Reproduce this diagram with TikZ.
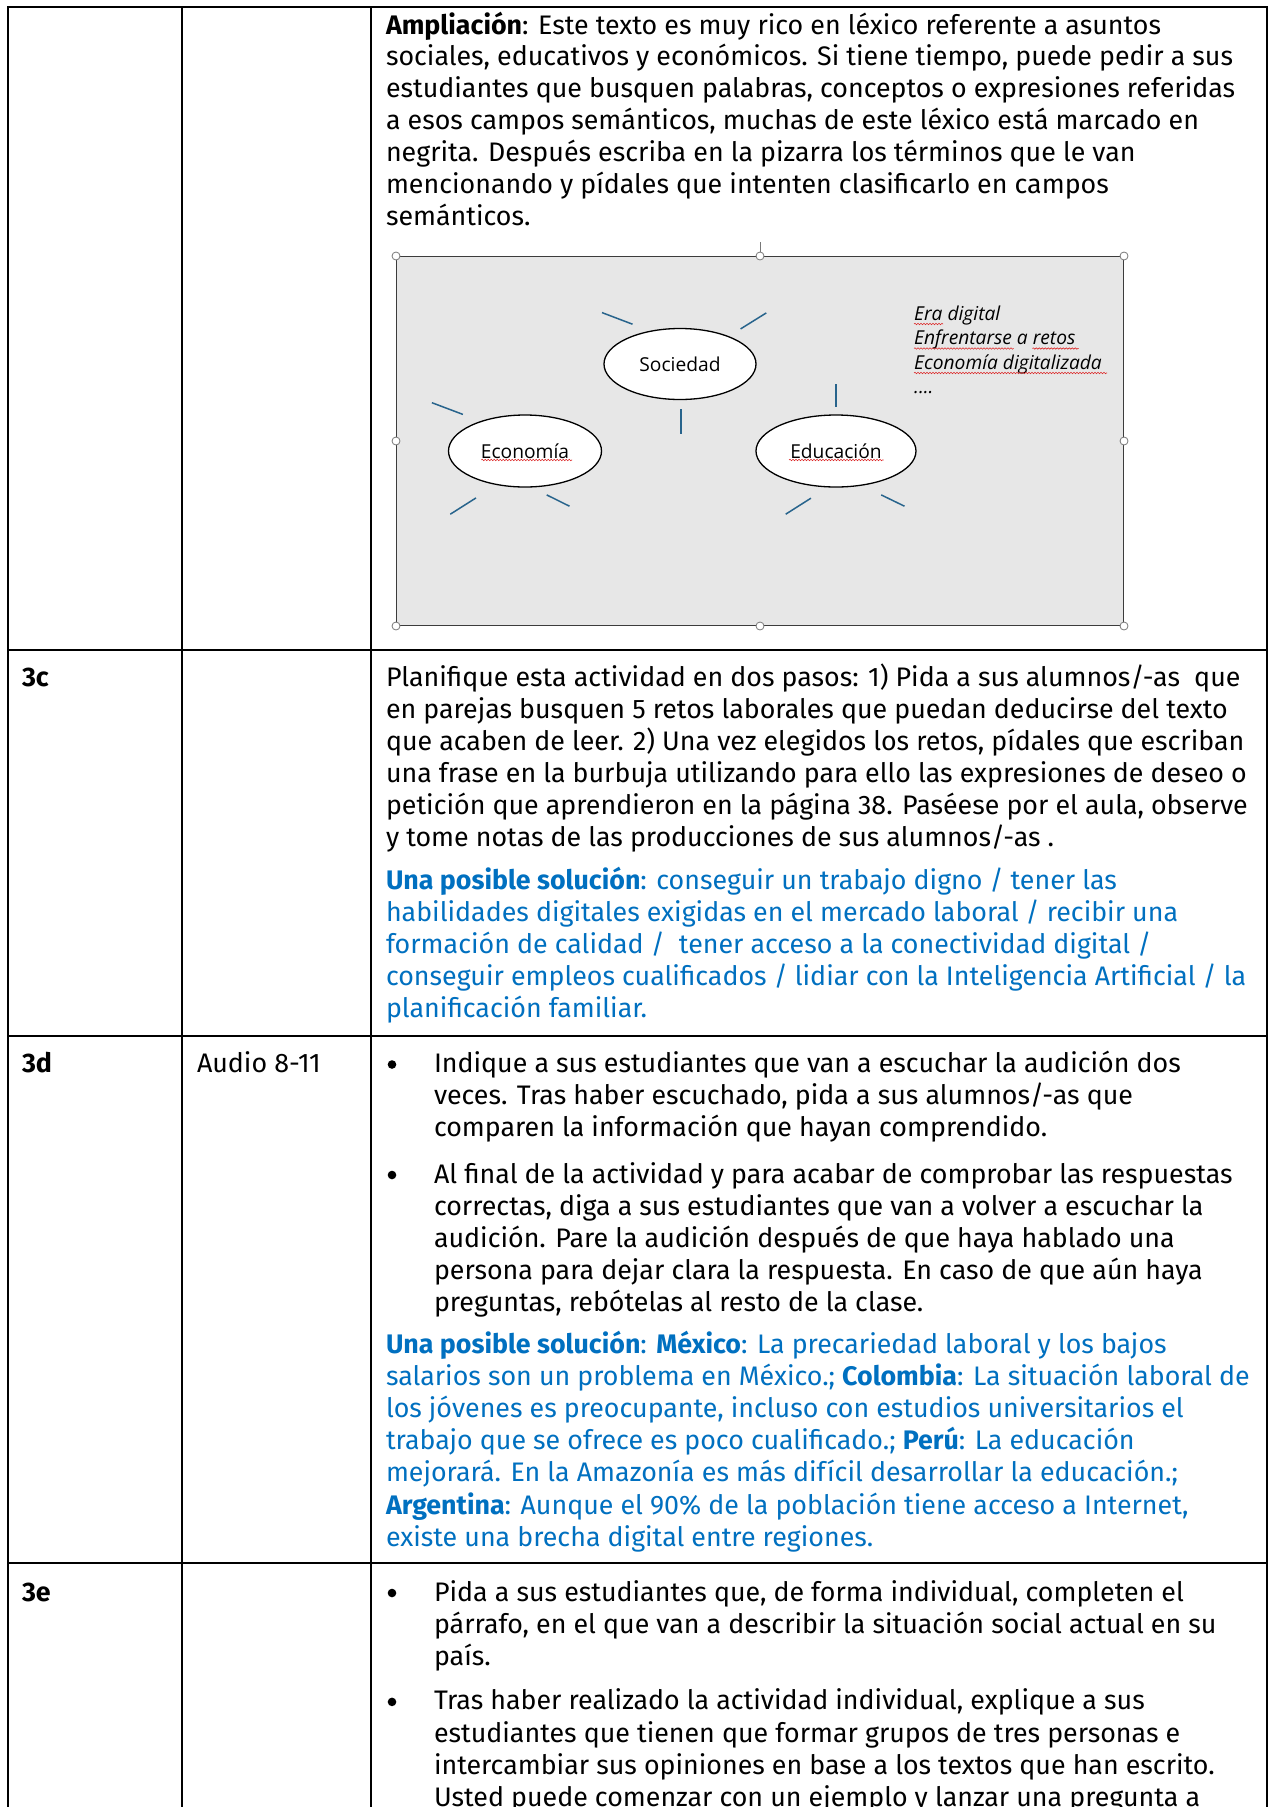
\documentclass[tikz,border=0pt]{standalone}
\usepackage{fontspec}
\setmainfont{Fira Sans}
\newfontfamily\diagfont{Open Sans}
\usetikzlibrary{shapes.geometric,decorations.pathmorphing}
\definecolor{solblue}{RGB}{0,112,192}
\definecolor{raycol}{RGB}{40,100,140}
\definecolor{imgfill}{RGB}{231,231,231}
\definecolor{handlecol}{RGB}{120,120,120}
\definecolor{squigcol}{RGB}{220,40,40}
\newcommand{\bodyfont}{\fontsize{26.8}{32.1}\selectfont}
\begin{document}
\begin{tikzpicture}[x=1pt,y=-1pt,
  grid/.style={line width=1.4pt, line cap=rect},
  ln/.style={anchor=base west, inner sep=0pt, outer sep=0pt, font=\bodyfont},
  blu/.style={ln, text=solblue},
  lab/.style={ln, font=\bodyfont\bfseries},
  bul/.style={circle, fill=black, inner sep=0pt, minimum size=8.6pt},
  oval/.style={ellipse, draw=black, line width=1.3pt, fill=white, inner sep=0pt, font=\diagfont\fontsize{19.2}{23}\selectfont},
  ray/.style={draw=raycol, line width=1.5pt},
  hdl/.style={circle, draw=handlecol, fill=white, line width=0.8pt, minimum size=8pt, inner sep=0pt},
  sq/.style={draw=squigcol, line width=0.6pt, decorate, decoration={snake, amplitude=0.7pt, segment length=3pt}},
  lst/.style={anchor=base west, inner sep=0pt, font=\diagfont\itshape\fontsize{19.2}{23}\selectfont}
]
\useasboundingbox (0,0) rectangle (1270,1807);
\clip (0,0) rectangle (1270,1807);
\fill[white] (0,0) rectangle (1270,1807);

% table grid
\draw[grid] (8,7) -- (1267,7);
\foreach \y in {650,1036,1563} \draw[grid] (8,\y) -- (1267,\y);
\foreach \x in {8,182,371,1267} \draw[grid] (\x,7) -- (\x,1815);

% row A text
\foreach \t [count=\i from 0] in {
 {\textbf{Ampliación}: Este texto es muy rico en léxico referente a asuntos},
 {sociales, educativos y económicos. Si tiene tiempo, puede pedir a sus},
 {estudiantes que busquen palabras, conceptos o expresiones referidas},
 {a esos campos semánticos, muchas de este léxico está marcado en},
 {negrita. Después escriba en la pizarra los términos que le van},
 {mencionando y pídales que intenten clasificarlo en campos},
 {semánticos.}}
 \node[ln] (a\i) at (386,34+31.9*\i) {\t};

% picture
\node[draw={rgb,255:red,60;green,60;blue,60}, line width=1pt, fill=imgfill, minimum width=727pt, minimum height=369pt, anchor=north west, inner sep=0pt] (img) at (396,256) {};
\draw[handlecol, line width=0.8pt] (760,242) -- (760,252);
\foreach \a [count=\i] in {north west,north,north east,west,east,south west,south,south east}
  \node[hdl] (h\i) at (img.\a) {};

\node[oval, minimum width=152pt, minimum height=71pt] (soc) at (680,364) {Sociedad};
\node[oval, minimum width=153pt, minimum height=72pt] (eco) at (525,451) {Economía};
\node[oval, minimum width=160pt, minimum height=72pt] (edu) at (836,451) {Educación};

\draw[ray] (602,312.6) -- (632.5,324.2);
\draw[ray] (740.6,328.9) -- (766.3,312.9);
\draw[ray] (681,409) -- (681,434);
\draw[ray] (431.9,402.7) -- (462.9,414.4);
\draw[ray] (450.3,514.2) -- (476,497.9);
\draw[ray] (546.7,494.9) -- (569.5,506.2);
\draw[ray] (836,384.4) -- (836,407.4);
\draw[ray] (785.7,514.2) -- (810.9,498.2);
\draw[ray] (881.2,494.9) -- (904.5,506.2);

\node[lst] (l1) at (914,320) {Era digital};
\node[lst] (l2) at (914,344.5) {Enfrentarse a retos};
\node[lst] (l3) at (914,369) {Economía digitalizada};
\node[lst] (l4) at (914,393.5) {....};

\draw[sq] (914,324) -- (943,324);
\draw[sq] (914,348.5) -- (1013.5,348.5);
\draw[sq] (1032.4,348.5) -- (1078.5,348.5);
\draw[sq] (914,373) -- (1107,373);
\draw[sq] (481.3,460) -- (572,460);
\draw[sq] (789,460) -- (883.6,460);

% row 3c
\node[lab] (r3c) at (22,686) {3c};
\foreach \t [count=\i from 0] in {
 {Planifique esta actividad en dos pasos: 1) Pida a sus alumnos/-as \ que},
 {en parejas busquen 5 retos laborales que puedan deducirse del texto},
 {que acaben de leer. 2) Una vez elegidos los retos, pídales que escriban},
 {una frase en la burbuja utilizando para ello las expresiones de deseo o},
 {petición que aprendieron en la página 38. Paséese por el aula, observe},
 {y tome notas de las producciones de sus alumnos/-as .}}
 \node[ln] (c\i) at (386,686+32.1*\i) {\t};
\foreach \t [count=\i from 0] in {
 {\textbf{Una posible solución}: conseguir un trabajo digno / tener las},
 {habilidades digitales exigidas en el mercado laboral / recibir una},
 {formación de calidad / \ tener acceso a la conectividad digital /},
 {conseguir empleos cualificados / lidiar con la Inteligencia Artificial / la},
 {planificación familiar.}}
 \node[blu] (cs\i) at (386,889.5+32.1*\i) {\t};

% row 3d
\node[lab] (r3d) at (22,1072.5) {3d};
\node[ln] (aud) at (197,1072.5) {Audio 8-11};
\node[bul] (db1) at (392,1064.5) {};
\foreach \t [count=\i from 0] in {
 {Indique a sus estudiantes que van a escuchar la audición dos},
 {veces. Tras haber escuchado, pida a sus alumnos/-as que},
 {comparen la información que hayan comprendido.}}
 \node[ln] (d\i) at (434,1072.5+32.1*\i) {\t};
\node[bul] (db2) at (392,1175) {};
\foreach \t [count=\i from 0] in {
 {Al final de la actividad y para acabar de comprobar las respuestas},
 {correctas, diga a sus estudiantes que van a volver a escuchar la},
 {audición. Pare la audición después de que haya hablado una},
 {persona para dejar clara la respuesta. En caso de que aún haya},
 {preguntas, rebótelas al resto de la clase.}}
 \node[ln] (e\i) at (434,1183+32.1*\i) {\t};
\foreach \t [count=\i from 0] in {
 {\textbf{Una posible solución}: \textbf{México}: La precariedad laboral y los bajos},
 {salarios son un problema en México.; \textbf{Colombia}: La situación laboral de},
 {los jóvenes es preocupante, incluso con estudios universitarios el},
 {trabajo que se ofrece es poco cualificado.; \textbf{Perú}: La educación},
 {mejorará. En la Amazonía es más difícil desarrollar la educación.;},
 {\textbf{Argentina}: Aunque el 90\% de la población tiene acceso a Internet,},
 {existe una brecha digital entre regiones.}}
 \node[blu] (ds\i) at (386,1353.5+32.1*\i) {\t};

% row 3e
\node[lab] (r3e) at (22,1601) {3e};
\node[bul] (eb1) at (392,1593) {};
\foreach \t [count=\i from 0] in {
 {Pida a sus estudiantes que, de forma individual, completen el},
 {párrafo, en el que van a describir la situación social actual en su},
 {país.}}
 \node[ln] (f\i) at (434,1601+32.1*\i) {\t};
\node[bul] (eb2) at (392,1701.9) {};
\foreach \t [count=\i from 0] in {
 {Tras haber realizado la actividad individual, explique a sus},
 {estudiantes que tienen que formar grupos de tres personas e},
 {intercambiar sus opiniones en base a los textos que han escrito.},
 {Usted puede comenzar con un ejemplo y lanzar una pregunta a}}
 \node[ln] (g\i) at (434,1709.9+32.1*\i) {\t};
\end{tikzpicture}
\end{document}
